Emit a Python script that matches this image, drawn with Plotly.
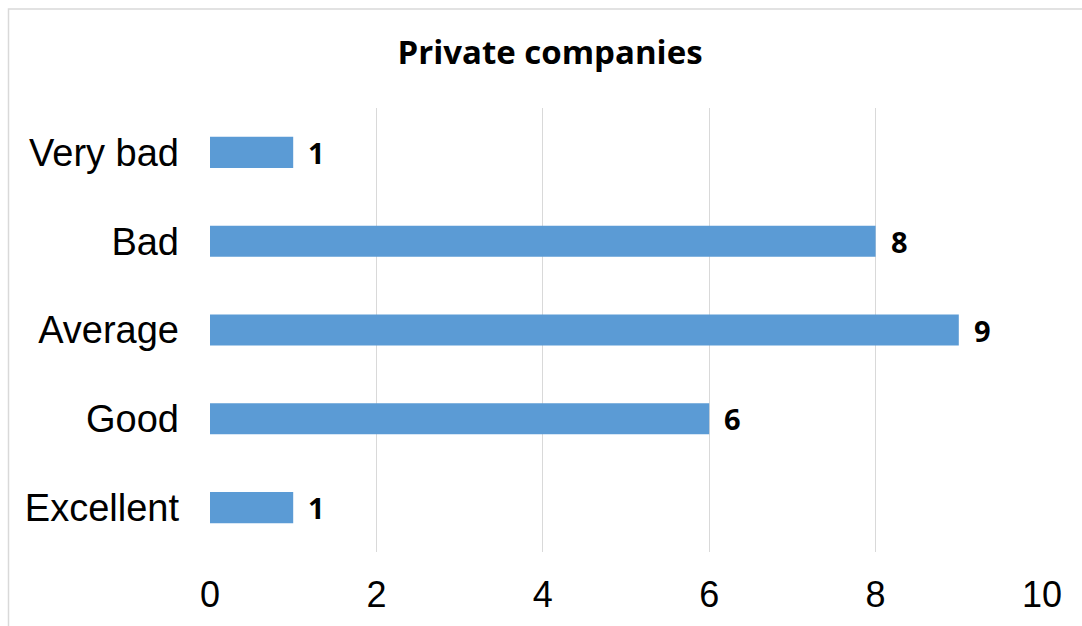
import plotly.graph_objects as go

# Ratings, listed bottom-to-top as drawn on the category axis
categories = ["Excellent", "Good", "Average", "Bad", "Very bad"]
counts = [1, 6, 9, 8, 1]
x_ticks = [0, 2, 4, 6, 8, 10]

W, H = 1082, 626
L, R, T, B = 210, 40, 108, 74

fig = go.Figure()
fig.add_trace(go.Bar(
    y=categories,
    x=counts,
    orientation="h",
    marker=dict(color="#5b9bd5", line=dict(width=0)),
    hoverinfo="skip",
))

# value labels next to each bar
for c, v in zip(categories, counts):
    fig.add_annotation(
        x=v, y=c, text=f"<b>{v}</b>", showarrow=False,
        xanchor="left", yanchor="middle", xshift=13,
        font=dict(family="Open Sans", size=29, color="#000000"),
    )

# outer chart frame (light grey)
pw, ph = W - L - R, H - T - B
fig.add_shape(
    type="rect", xref="paper", yref="paper",
    x0=(8.5 - L) / pw, x1=(W + 20 - L) / pw,
    y0=(H - B - (H + 20)) / ph, y1=(H - B - 9) / ph,
    line=dict(color="#d9d9d9", width=1.5), fillcolor="rgba(0,0,0,0)",
    layer="below",
)

fig.update_layout(
    width=W, height=H,
    margin=dict(l=L, r=R, t=T, b=B),
    paper_bgcolor="white", plot_bgcolor="white",
    showlegend=False,
    bargap=0.65,
    title=dict(
        text="<b>Private companies</b>",
        x=550 / W, xanchor="center", y=1 - 52 / H, yanchor="middle",
        font=dict(family="Open Sans", size=33, color="#000000"),
    ),
    xaxis=dict(
        range=[0, 10], tickvals=x_ticks, ticktext=[str(t) for t in x_ticks],
        showgrid=True, gridcolor="#d9d9d9", gridwidth=1,
        zeroline=False, showline=False, ticks="",
        ticklabelstandoff=18, automargin=False,
        tickfont=dict(family="Liberation Sans", size=36, color="#000000"),
        fixedrange=True,
    ),
    yaxis=dict(
        categoryorder="array", categoryarray=categories,
        showgrid=False, zeroline=False, showline=False, ticks="",
        ticklabelstandoff=30, automargin=False,
        tickfont=dict(family="Liberation Sans", size=38, color="#000000"),
        fixedrange=True,
    ),
)

fig.write_html("out.html", config={"displayModeBar": False})
